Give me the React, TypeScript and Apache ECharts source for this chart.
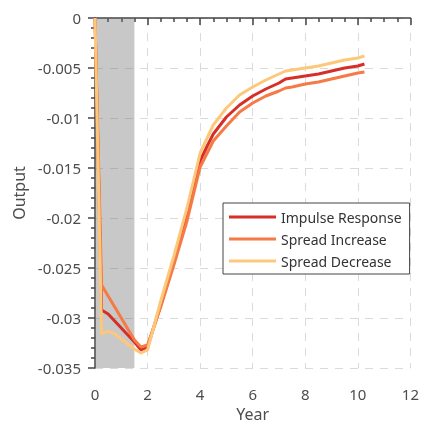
import React, { useEffect, useRef } from "react";
import * as echarts from "echarts";

const years = [0, 0.25, 0.5, 0.75, 1, 1.25, 1.5, 1.75, 2, 2.5, 3, 3.5, 4, 4.25, 4.5, 5, 5.5, 6, 6.5, 7, 7.25, 7.5, 8, 8.5, 9, 9.5, 10, 10.25];

const impulseResponse = [0, -0.0292, -0.0296, -0.0303, -0.031, -0.0317, -0.0324, -0.0332, -0.0329, -0.0287, -0.0243, -0.0197, -0.0143, -0.0129, -0.0116, -0.0099, -0.0087, -0.0078, -0.0071, -0.0065, -0.0061, -0.006, -0.0058, -0.0056, -0.0053, -0.005, -0.0048, -0.0046];

const spreadIncrease = [0, -0.0267, -0.0278, -0.0289, -0.03, -0.0311, -0.0322, -0.0329, -0.0327, -0.0289, -0.0247, -0.0203, -0.0149, -0.0136, -0.0123, -0.0108, -0.0094, -0.0085, -0.0078, -0.0073, -0.007, -0.0069, -0.0066, -0.0064, -0.0061, -0.0058, -0.0055, -0.0054];

const spreadDecrease = [0, -0.0316, -0.0313, -0.0316, -0.0321, -0.0326, -0.0331, -0.0335, -0.0332, -0.0283, -0.0238, -0.019, -0.0135, -0.0121, -0.0107, -0.009, -0.0077, -0.0069, -0.0062, -0.0056, -0.0053, -0.0052, -0.005, -0.0048, -0.0045, -0.0042, -0.004, -0.0038];

const seriesNames = ["Impulse Response", "Spread Increase", "Spread Decrease"];
const seriesColors = ["#d62f27", "#f57a45", "#fdc87a"];
const shadedRange = [0, 1.5];

const FONT = "Noto Sans";
const TXT = "#4d4d4d";
const AXIS = "#444";

export default function App() {
  const ref = useRef<HTMLDivElement>(null);
  useEffect(() => {
    const chart = echarts.init(ref.current!, null, { renderer: "svg" });
    const allData = [impulseResponse, spreadIncrease, spreadDecrease];
    const lineSeries = allData.map((vals, i) => ({
      name: seriesNames[i],
      type: "line",
      data: years.map((t, k) => [t, vals[k]]),
      showSymbol: false,
      symbol: "none",
      lineStyle: { color: seriesColors[i], width: 3 },
      itemStyle: { color: seriesColors[i] },
      z: 2,
    }));
    chart.setOption({
      animation: false,
      grid: { left: 95, right: 9, top: 18, bottom: 55 },
      legend: {
        orient: "vertical",
        left: 223,
        top: 203,
        data: seriesNames.map((n) => ({ name: n, icon: "rect" })),
        itemWidth: 47,
        itemHeight: 3,
        itemGap: 6,
        backgroundColor: "#fff",
        borderColor: AXIS,
        borderWidth: 1,
        borderRadius: 0,
        padding: [6, 8, 5, 6],
        textStyle: { fontFamily: FONT, fontSize: 14, color: "#333", lineHeight: 16 },
      },
      xAxis: {
        type: "value",
        min: 0,
        max: 12,
        interval: 2,
        name: "Year",
        nameLocation: "middle",
        nameGap: 38,
        nameTextStyle: { fontFamily: FONT, fontSize: 16, color: TXT },
        axisLine: { show: true, lineStyle: { color: AXIS, width: 1.5 } },
        axisTick: { show: true, length: 7, lineStyle: { color: AXIS, width: 1.5 } },
        minorTick: { show: true, splitNumber: 4, length: 4, lineStyle: { color: AXIS, width: 1.5 } },
        axisLabel: { fontFamily: FONT, fontSize: 15, color: TXT, margin: 18 },
        splitLine: { show: true, lineStyle: { color: "#dadada", type: [8, 7], width: 1 } },
      },
      yAxis: {
        type: "value",
        min: -0.035,
        max: 0,
        interval: 0.005,
        name: "Output",
        nameLocation: "middle",
        nameGap: 68,
        nameTextStyle: { fontFamily: FONT, fontSize: 16, color: TXT },
        axisLine: { show: true, lineStyle: { color: AXIS, width: 1.5 } },
        axisTick: { show: true, length: 7, lineStyle: { color: AXIS, width: 1.5 } },
        minorTick: { show: true, splitNumber: 5, length: 4, lineStyle: { color: AXIS, width: 1.5 } },
        axisLabel: {
          fontFamily: FONT,
          fontSize: 15,
          color: TXT,
          margin: 14,
          formatter: (v: number) => (v === 0 ? "0" : String(parseFloat(v.toFixed(4)))),
        },
        splitLine: { show: true, lineStyle: { color: "#dadada", type: [8, 7], width: 1 } },
      },
      series: [
        ...lineSeries,
        {
          name: "shade",
          type: "line",
          data: [],
          z: 5,
          silent: true,
          markArea: {
            silent: true,
            itemStyle: { color: "rgba(110,110,110,0.38)" },
            data: [[{ xAxis: shadedRange[0] }, { xAxis: shadedRange[1] }]],
          },
        },
      ],
    });
    return () => chart.dispose();
  }, []);
  return <div ref={ref} style={{ position: "fixed", left: 0, top: 0, width: 422, height: 427 }} />;
}
